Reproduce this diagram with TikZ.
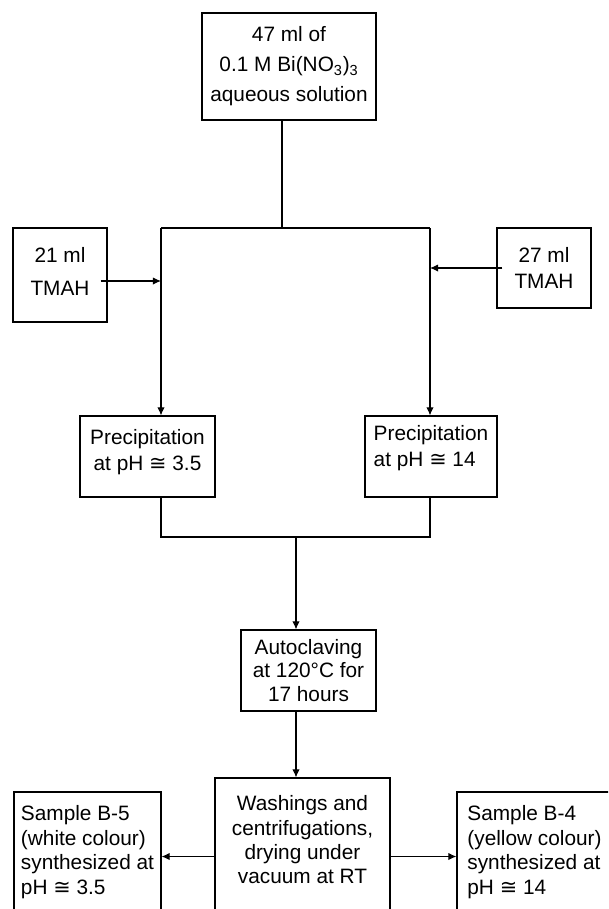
\documentclass[tikz,border=0pt]{standalone}
\usepackage{fontspec}
\usetikzlibrary{arrows.meta}
\setmainfont{Liberation Sans}
\newfontfamily\cgfont{DejaVu Sans}
\newcommand{\cg}{{\cgfont ≅}}
\newcommand{\pxu}{0.025cm}
\newcommand{\lift}[1]{\rule[-#1pt]{0pt}{0pt}}
\tikzset{
  box/.style={draw,line width=0.85pt,inner sep=0pt,align=center,
    font=\fontsize{14.8}{17}\selectfont},
  >={Latex[length=5.7pt,width=5.2pt]}
}
\begin{document}
\begin{tikzpicture}[x=0.025cm,y=-0.025cm,line width=0.75pt]
\useasboundingbox (0,0) rectangle (608,909);
\clip (0,0) rectangle (608,909);
% boxes
\node[box,minimum width=174*\pxu,minimum height=107*\pxu,font=\fontsize{14.8}{21.3}\selectfont] (bismuth) at (289,66.5) {47 ml of\\0.1 M Bi(NO\textsubscript{3})\textsubscript{3}\\aqueous solution};
\node[box,minimum width=94*\pxu,minimum height=94*\pxu,font=\fontsize{14.8}{23.5}\selectfont] (tmahleft) at (60,275) {21 ml\\TMAH\lift{5}};
\node[box,minimum width=94*\pxu,minimum height=80*\pxu,font=\fontsize{14.8}{18.5}\selectfont] (tmahright) at (544,268) {27 ml\\TMAH};
\node[box,minimum width=135*\pxu,minimum height=81*\pxu,font=\fontsize{14.8}{18.5}\selectfont] (precleft) at (147.5,456.5) {Precipitation\\at pH \cg{} 3.5\lift{9}};
\node[box,align=left,minimum width=132*\pxu,minimum height=81*\pxu,font=\fontsize{14.8}{18.5}\selectfont] (precright) at (431,456.5) {Precipitation\\at pH \cg{} 14\lift{15}};
\node[box,minimum width=135*\pxu,minimum height=81*\pxu] (autoclave) at (308.5,670.5) {Autoclaving\\at 120°C for\\17 hours};
\node[box,minimum width=175*\pxu,minimum height=157*\pxu,font=\fontsize{14.8}{17.3}\selectfont] (washing) at (302.5,856.5) {Washings and\\centrifugations,\\drying under\\vacuum at RT\lift{24}};
\node[box,align=left,minimum width=147*\pxu,minimum height=143*\pxu,font=\fontsize{14.8}{17.5}\selectfont] (sampleB5) at (87.5,863.5) {Sample B-5\\(white colour)\\synthesized at\\pH \cg{} 3.5\lift{19}};
\node[box,align=left,minimum width=155*\pxu,minimum height=143*\pxu,font=\fontsize{14.8}{17.5}\selectfont] (sampleB4) at (534.5,863.5) {Sample B-4\\(yellow colour)\\synthesized at\\pH \cg{} 14\lift{19}};
% connectors
\coordinate (split) at (282,228);
\coordinate (forkleft) at (161,228);
\coordinate (forkright) at (430,228);
\coordinate (merge) at (296,537);
\coordinate (inleft) at ([shift={(-7,6)}]tmahleft.east);
\coordinate (inright) at ([shift={(6,0)}]tmahright.west);
\draw (bismuth.south -| split) -- (split);
\draw (forkleft) -- (forkright);
\draw[->] (forkleft) -- (forkleft |- precleft.north);
\draw[->] (forkright) -- (forkright |- precright.north);
\draw[->] (inleft) -- (inleft -| forkleft);
\draw[->] (inright) -- (inright -| forkright);
\draw (forkleft |- precleft.south) -- (forkleft |- merge) -- (forkright |- merge) -- (forkright |- precright.south);
\draw[->] (merge) -- (merge |- autoclave.north);
\draw[->] (merge |- autoclave.south) -- (merge |- washing.north);
\draw[->] (washing.west) -- (washing.west -| sampleB5.east);
\draw[->] (washing.east) -- (washing.east -| sampleB4.west);
\end{tikzpicture}
\end{document}
